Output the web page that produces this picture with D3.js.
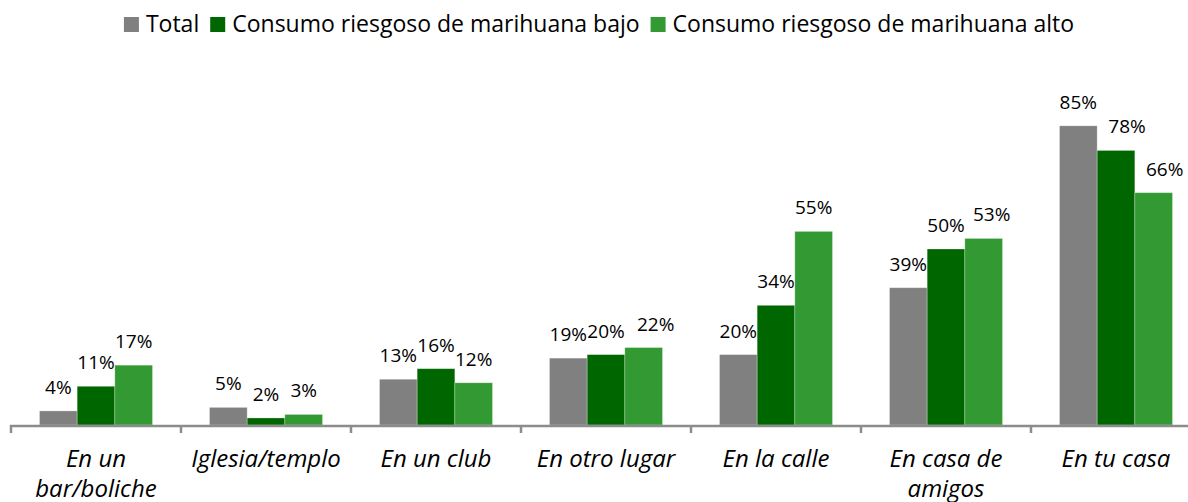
<!DOCTYPE html>
<html>
<head>
<meta charset="utf-8">
<script src="https://cdn.jsdelivr.net/npm/d3@7"></script>
<style>
  body { margin: 0; background: #fff; }
  text { font-family: "Open Sans", Lato, sans-serif; fill: #000; }
</style>
</head>
<body>
<div id="chart"></div>
<script>
var width = 1188;
var height = 502;

var categories = ["En un bar/boliche", "Iglesia/templo", "En un club", "En otro lugar",
  "En la calle", "En casa de amigos", "En tu casa"];
var seriesNames = ["Total", "Consumo riesgoso de marihuana bajo", "Consumo riesgoso de marihuana alto"];
var total = [4, 5, 13, 19, 20, 39, 85];
var bajo = [11, 2, 16, 20, 34, 50, 78];
var alto = [17, 3, 12, 22, 55, 53, 66];
var colors = ["#808080", "#006600", "#339933"];

// a few labels were moved by hand in the original
var labelNudge = { "3-2": 12, "5-2": 8, "6-1": 11, "6-2": 11 };

var svg = d3.select("#chart").append("svg")
  .attr("width", width)
  .attr("height", height);

var baseY = 425;
var x0 = d3.scaleBand().domain(categories).range([11, 11 + 170 * categories.length]);
var x1 = d3.scaleBand().domain(d3.range(seriesNames.length)).range([28.5, 141.5]);
var y = d3.scaleLinear().domain([0, 100]).range([baseY, 73]);

var rows = categories.map(function(c, i) {
  return { cat: c, i: i, vals: [total[i], bajo[i], alto[i]] };
});

var groups = svg.selectAll("g.cat").data(rows).enter().append("g")
  .attr("class", "cat")
  .attr("transform", function(d) { return "translate(" + x0(d.cat) + ",0)"; });

groups.selectAll("rect").data(function(d) {
  return d.vals.map(function(v, s) { return { v: v, s: s, i: d.i }; });
}).enter().append("rect")
  .attr("x", function(d) { return x1(d.s); })
  .attr("y", function(d) { return y(d.v); })
  .attr("width", x1.bandwidth())
  .attr("height", function(d) { return baseY - y(d.v); })
  .attr("fill", function(d) { return colors[d.s]; })
  .attr("stroke", "#ffffff")
  .attr("stroke-opacity", 0.35)
  .attr("stroke-width", 0.8);

groups.selectAll("text.val").data(function(d) {
  return d.vals.map(function(v, s) { return { v: v, s: s, i: d.i }; });
}).enter().append("text")
  .attr("class", "val")
  .attr("x", function(d) { return x1(d.s) + x1.bandwidth() / 2 + (labelNudge[d.i + "-" + d.s] || 0); })
  .attr("y", function(d) { return y(d.v) - 17; })
  .attr("text-anchor", "middle")
  .style("font-size", "19px")
  .text(function(d) { return d.v + "%"; });

// axis line and ticks between categories
svg.append("line")
  .attr("x1", 10).attr("x2", width)
  .attr("y1", baseY + 1).attr("y2", baseY + 1)
  .attr("stroke", "#8c8c8c").attr("stroke-width", 2.5);

var bounds = categories.map(function(c) { return x0(c); }).concat([x0.range()[1]]);
svg.selectAll("line.tick").data(bounds).enter().append("line")
  .attr("class", "tick")
  .attr("x1", function(d) { return d; }).attr("x2", function(d) { return d; })
  .attr("y1", baseY).attr("y2", baseY + 8)
  .attr("stroke", "#8c8c8c").attr("stroke-width", 2.5);

// category labels, wrapped like the spreadsheet does
function wrapWords(label, maxW, size) {
  var words = label.split(" ");
  var lines = [];
  var line = "";
  var probe = svg.append("text").style("font-size", size + "px").style("font-style", "italic");
  words.forEach(function(w) {
    var trial = line ? line + " " + w : w;
    probe.text(trial);
    if (line && probe.node().getComputedTextLength() > maxW) {
      lines.push(line);
      line = w;
    } else {
      line = trial;
    }
  });
  lines.push(line);
  probe.remove();
  return lines;
}

var catSize = 24;
rows.forEach(function(d) {
  var lines = wrapWords(d.cat, 162, catSize);
  var t = svg.append("text")
    .attr("x", x0(d.cat) + x0.bandwidth() / 2)
    .attr("y", 467)
    .attr("text-anchor", "middle")
    .style("font-size", catSize + "px")
    .style("font-style", "italic");
  lines.forEach(function(l, k) {
    t.append("tspan")
      .attr("x", x0(d.cat) + x0.bandwidth() / 2)
      .attr("dy", k === 0 ? 0 : 30)
      .text(l);
  });
});

// legend
var legend = svg.append("g");
var lx = 0;
seriesNames.forEach(function(name, s) {
  var item = legend.append("g").attr("transform", "translate(" + lx + ",0)");
  item.append("rect")
    .attr("x", 0).attr("y", 17)
    .attr("width", 15).attr("height", 15)
    .attr("fill", colors[s]);
  var t = item.append("text")
    .attr("x", 22).attr("y", 32)
    .style("font-size", "23px")
    .text(name);
  lx += 22 + t.node().getComputedTextLength() + 11;
});
legend.attr("transform", "translate(" + (599 - (lx - 11) / 2) + ",0)");
</script>
</body>
</html>
